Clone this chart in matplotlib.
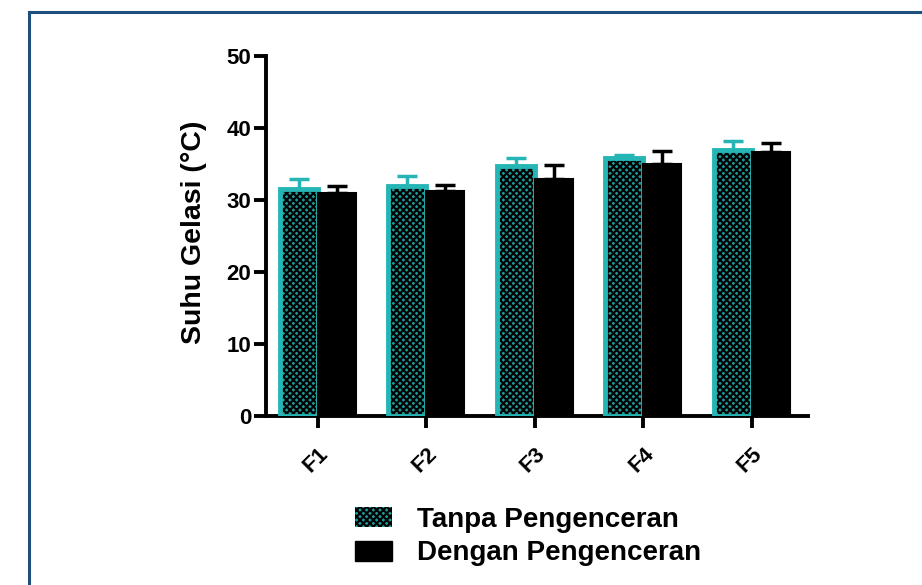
import matplotlib
matplotlib.use("Agg")
import matplotlib.pyplot as plt
import numpy as np
from matplotlib.patches import Patch
from matplotlib.lines import Line2D

plt.rcParams['font.family'] = ['Liberation Sans', 'DejaVu Sans']
plt.rcParams['font.weight'] = 'bold'
plt.rcParams['hatch.linewidth'] = 1.5

categories = ["F1", "F2", "F3", "F4", "F5"]
tanpa = [31.5, 31.9, 34.7, 35.9, 36.9]
tanpa_err = [1.4, 1.4, 1.2, 0.4, 1.3]
dengan = [31.0, 31.3, 32.9, 35.0, 36.6]
dengan_err = [0.9, 0.8, 1.9, 1.8, 1.3]
series_labels = ["Tanpa Pengenceran", "Dengan Pengenceran"]
yticks = [0, 10, 20, 30, 40, 50]

teal = '#26b5b5'
teal_fill = '#1c9a9a'

W, H = 922, 585
fig = plt.figure(figsize=(W / 100, H / 100), dpi=100)
fig.patch.set_facecolor('white')

# frame border
fig.add_artist(Line2D([29 / W, 1.0], [1 - 12 / H, 1 - 12 / H], color='#1f4f7d', lw=2.2,
                      transform=fig.transFigure))
fig.add_artist(Line2D([29 / W, 29 / W], [1 - 12 / H, 0.0], color='#1f4f7d', lw=2.2,
                      transform=fig.transFigure))

ax = fig.add_axes([266 / W, 1 - 416 / H, (808 - 266) / W, (416 - 56) / H])
x = np.arange(len(categories))
w = 0.35

# teal hatched bars
ax.bar(x - w / 2, tanpa, w, facecolor=teal_fill, edgecolor='black', hatch='xxxxx',
       linewidth=0, zorder=2)
ax.bar(x - w / 2, tanpa, w, fill=False, edgecolor=teal, linewidth=3.5, zorder=3)
ax.bar(x + w / 2, dengan, w, color='black', edgecolor='black', linewidth=1.5, zorder=4)

ax.errorbar(x - w / 2, tanpa, yerr=[np.zeros(len(tanpa)), tanpa_err], fmt='none',
            ecolor=teal, elinewidth=2.5, capsize=7.2, capthick=2.5, zorder=1)
ax.errorbar(x + w / 2, dengan, yerr=[np.zeros(len(dengan)), dengan_err], fmt='none',
            ecolor='black', elinewidth=2.5, capsize=7.2, capthick=2.5, zorder=1)

ax.set_xlim(-0.48, 4.52)
ax.set_ylim(0, 50)
ax.set_yticks(yticks)
ax.set_xticks(x)
ax.set_xticklabels(categories, rotation=45, ha='right', rotation_mode='anchor',
                   fontsize=16, fontweight='bold')
for lab in ax.get_yticklabels():
    lab.set_fontsize(16)
    lab.set_fontweight('bold')

for s in ['top', 'right']:
    ax.spines[s].set_visible(False)
for s in ['left', 'bottom']:
    ax.spines[s].set_linewidth(2.8)
ax.tick_params(axis='both', length=8.6, width=2.8, direction='out')
ax.tick_params(axis='x', pad=11)
ax.tick_params(axis='y', pad=2)
ax.set_ylabel("Suhu Gelasi (°C)", fontsize=20.5, fontweight='bold')
ax.yaxis.set_label_coords(-0.108, 0.511)
ax.set_facecolor('white')

handles = [Patch(facecolor=teal_fill, edgecolor='black', hatch='xxxxx', linewidth=0),
           Patch(facecolor='black', edgecolor='black')]
leg = fig.legend(handles, series_labels, loc='upper left',
                 bbox_to_anchor=(355 / W, 1 - 507 / H), frameon=False,
                 prop={'size': 20, 'weight': 'bold'}, handlelength=1.33,
                 handleheight=0.72, handletextpad=0.9, labelspacing=0.27,
                 borderpad=0, borderaxespad=0)

fig.savefig("out.png", dpi=100)
